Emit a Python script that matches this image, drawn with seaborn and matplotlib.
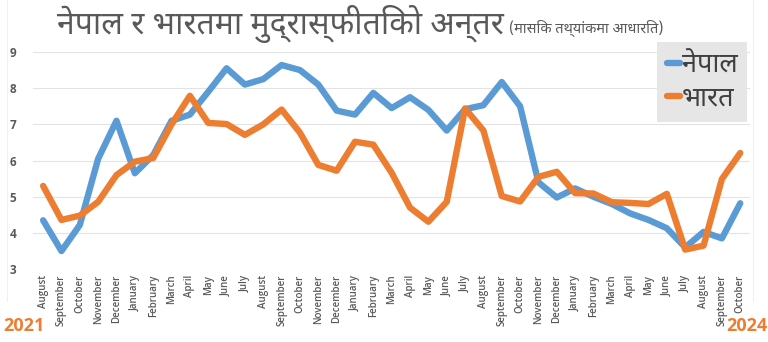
import matplotlib
matplotlib.use("Agg")
import matplotlib.pyplot as plt
import pandas as pd
import seaborn as sns
from matplotlib import font_manager
from matplotlib.lines import Line2D

# Monthly inflation (%), August 2021 – October 2024
months = [
    "August", "September", "October", "November", "December",
    "January", "February", "March", "April", "May", "June", "July",
    "August", "September", "October", "November", "December",
    "January", "February", "March", "April", "May", "June", "July",
    "August", "September", "October", "November", "December",
    "January", "February", "March", "April", "May", "June", "July",
    "August", "September", "October",
]
nepal = [
    4.35, 3.50, 4.22, 6.05, 7.10,
    5.65, 6.15, 7.10, 7.27, 7.90, 8.55, 8.10,
    8.25, 8.64, 8.50, 8.10, 7.38,
    7.27, 7.87, 7.45, 7.75, 7.40, 6.83, 7.42,
    7.53, 8.17, 7.50, 5.40, 4.98,
    5.23, 5.00, 4.80, 4.54, 4.36, 4.13, 3.60,
    4.03, 3.85, 4.82,
]
india = [
    5.30, 4.36, 4.48, 4.86, 5.60,
    5.97, 6.07, 7.00, 7.79, 7.04, 7.01, 6.71,
    7.00, 7.41, 6.77, 5.88, 5.72,
    6.52, 6.44, 5.66, 4.70, 4.31, 4.86, 7.44,
    6.83, 5.02, 4.87, 5.55, 5.69,
    5.10, 5.09, 4.85, 4.83, 4.80, 5.08, 3.54,
    3.65, 5.49, 6.21,
]
series_names = ["नेपाल", "भारत"]
series_colors = ["#5B9BD5", "#ED7D31"]
y_ticks = [3, 4, 5, 6, 7, 8, 9]
start_year, end_year = "2021", "2024"
title_main = "नेपाल र भारतमा मुद्रास्फीतिको अन्तर"
title_sub = "(मासिक तथ्यांकमा आधारित)"

sns.set_theme(style="white")

installed = {f.name for f in font_manager.fontManager.ttflist}


def pick(candidates, fallback="DejaVu Sans"):
    for c in candidates:
        if c in installed:
            return c
    return fallback


deva = pick(["Noto Sans Devanagari", "Mukta", "Hind", "Poppins", "FreeSans"])
latin = pick(["Open Sans", "Lato", "DejaVu Sans"])
plt.rcParams["font.family"] = [latin, deva, "DejaVu Sans"]

grey_text = "#595959"

df = pd.DataFrame({
    "idx": list(range(len(months))) * 2,
    "value": nepal + india,
    "country": [series_names[0]] * len(months) + [series_names[1]] * len(months),
})

fig = plt.figure(figsize=(7.68, 3.42), dpi=100)
fig.patch.set_facecolor("white")
ax = fig.add_axes([0.043, 0.213, 0.977 - 0.043, 0.848 - 0.213])

sns.lineplot(
    data=df, x="idx", y="value", hue="country", hue_order=series_names,
    palette=dict(zip(series_names, series_colors)), linewidth=4.6,
    legend=False, ax=ax,
)
for ln in ax.lines:
    ln.set_solid_capstyle("round")
    ln.set_solid_joinstyle("round")

ax.set_xlim(-0.55, len(months) - 1 + 0.55)
ax.set_ylim(y_ticks[0], y_ticks[-1])
ax.set_yticks(y_ticks)
ax.set_yticklabels([str(v) for v in y_ticks], fontsize=8.5,
                   fontweight="bold", color=grey_text)
ax.set_xticks(range(len(months)))
ax.set_xticklabels(months, rotation=90, fontsize=7, color=grey_text,
                   fontweight="semibold")
ax.tick_params(axis="x", length=0, pad=4)
ax.tick_params(axis="y", length=0, pad=12)
ax.set_xlabel("")
ax.set_ylabel("")
ax.grid(axis="y", color="#e3e3e3", linewidth=0.8)
ax.grid(axis="x", visible=False)
for s in ax.spines.values():
    s.set_visible(False)

# legend box
handles = [Line2D([0], [0], color=c, lw=4.6, solid_capstyle="round")
           for c in series_colors]
leg = ax.legend(
    handles, series_names, loc="upper right",
    bbox_to_anchor=(747 / 768, 1 - 42 / 342), bbox_transform=fig.transFigure,
    borderaxespad=0, frameon=True, fancybox=False, handlelength=0.5,
    handletextpad=0.05, labelspacing=0.2, borderpad=0.35,
    prop={"family": [deva], "size": 19.5, "weight": "semibold"},
)
leg.get_frame().set_facecolor("#e7e6e6")
leg.get_frame().set_edgecolor("none")
leg.get_frame().set_alpha(1)
for t in leg.get_texts():
    t.set_color("#404040")

# year markers under the axis
fig.text(3 / 768, 1 - 326 / 342, start_year, color="#ED7D31", fontsize=13,
         fontweight="bold", ha="left", va="center")
fig.text(767 / 768, 1 - 326 / 342, end_year, color="#ED7D31", fontsize=13,
         fontweight="bold", ha="right", va="center")

# title and subtitle
t_main = fig.text(57 / 768, 1 - 24 / 342, title_main, fontsize=23,
                  color=grey_text, ha="left", va="center", family=[deva],
                  fontstretch="condensed", fontweight="light")
fig.canvas.draw()
bb = t_main.get_window_extent(fig.canvas.get_renderer())
fig.text(bb.x1 / fig.bbox.width + 5 / 768, 1 - 28 / 342, title_sub,
         fontsize=10.5, color=grey_text, ha="left", va="center", family=[deva],
         fontstretch="condensed", fontweight="light")

# faint chart frame edges
for xf in (7 / 768, 753 / 768):
    fig.add_artist(Line2D([xf, xf], [0.12, 1.0], transform=fig.transFigure,
                          color="#f0f0f0", lw=0.8))

fig.savefig("out.png", dpi=100, facecolor="white")
